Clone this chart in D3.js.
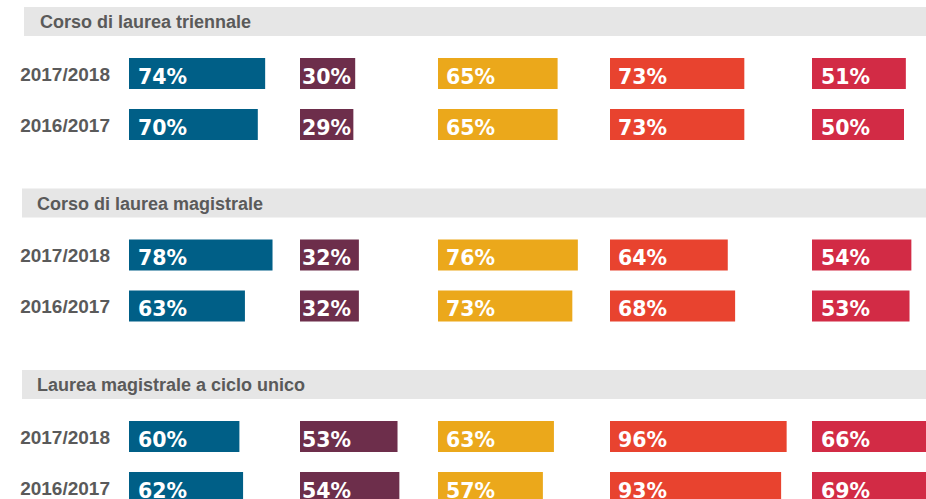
<!DOCTYPE html>
<html>
<head>
<meta charset="utf-8">
<script src="https://cdn.jsdelivr.net/npm/d3@7"></script>
<style>
  body { margin: 0; background: #fff; }
  svg { display: block; }
  text { font-family: "Liberation Sans", Arial, Helvetica, sans-serif; font-weight: bold; }
  text.value { font-family: "DejaVu Sans", Verdana, sans-serif; }
</style>
</head>
<body>
<script>
// Sections (course types), rows (academic years), five coloured columns
var sections = ["Corso di laurea triennale", "Corso di laurea magistrale", "Laurea magistrale a ciclo unico"];
var years = ["2017/2018", "2016/2017"];
var colors = ["#005f87", "#6d2e4b", "#eba81b", "#e8432f", "#d22b45"];

// values[section][year] -> five percentages
var triennale = [[74, 30, 65, 73, 51], [70, 29, 65, 73, 50]];
var magistrale = [[78, 32, 76, 64, 54], [63, 32, 73, 68, 53]];
var cicloUnico = [[60, 53, 63, 96, 66], [62, 54, 57, 93, 69]];
var values = [triennale, magistrale, cicloUnico];

var width = 926, height = 499;

var svg = d3.select("body")
  .append("svg")
  .attr("width", width)
  .attr("height", height);

// length of a bar per percent
var x = d3.scaleLinear().domain([0, 100]).range([0, 184]);

// left edge of each colour column, and label inset inside the bar
var colX = d3.scaleOrdinal().domain(d3.range(5)).range([129, 300, 438, 610, 812]);
var labelPad = [9, 2, 8, 8, 9];

// top of each section header
var sectionY = d3.scaleLinear().domain([0, 2]).range([7, 370]);
var headerH = 29;
var barH = 31;
var rowOffset = [51, 102];

var rows = [];
values.forEach(function (sec, s) {
  sec.forEach(function (row, r) {
    row.forEach(function (v, c) {
      rows.push({ s: s, r: r, c: c, v: v });
    });
  });
});

// section header bands
var headers = svg.selectAll("g.header")
  .data(sections)
  .enter()
  .append("g")
  .attr("class", "header");

headers.append("rect")
  .attr("x", function (d, i) { return i === 0 ? 24 : 22; })
  .attr("y", function (d, i) { return sectionY(i); })
  .attr("width", width)
  .attr("height", headerH)
  .attr("fill", "#e6e6e6");

headers.append("text")
  .attr("x", function (d, i) { return i === 0 ? 40 : 37; })
  .attr("y", function (d, i) { return sectionY(i) + 21; })
  .attr("font-size", "18px")
  .attr("fill", "#5a5a5a")
  .text(function (d) { return d; });

// year labels
var yearLabels = [];
sections.forEach(function (s, si) {
  years.forEach(function (y, yi) {
    yearLabels.push({ s: si, r: yi, label: y });
  });
});

svg.selectAll("text.year")
  .data(yearLabels)
  .enter()
  .append("text")
  .attr("class", "year")
  .attr("x", 110)
  .attr("y", function (d) { return sectionY(d.s) + rowOffset[d.r] + barH / 2 + 7; })
  .attr("text-anchor", "end")
  .attr("font-size", "19px")
  .attr("fill", "#5a5a5a")
  .text(function (d) { return d.label; });

// bars
svg.selectAll("rect.bar")
  .data(rows)
  .enter()
  .append("rect")
  .attr("class", "bar")
  .attr("x", function (d) { return colX(d.c); })
  .attr("y", function (d) { return sectionY(d.s) + rowOffset[d.r]; })
  .attr("width", function (d) { return x(d.v); })
  .attr("height", barH)
  .attr("fill", function (d) { return colors[d.c]; });

// value labels inside the bars
svg.selectAll("text.value")
  .data(rows)
  .enter()
  .append("text")
  .attr("class", "value")
  .attr("x", function (d) { return colX(d.c) + labelPad[d.c]; })
  .attr("y", function (d) { return sectionY(d.s) + rowOffset[d.r] + barH / 2 + 10; })
  .attr("font-size", "20.5px")
  .attr("fill", "#fff")
  .text(function (d) { return d.v + "%"; });
</script>
</body>
</html>
